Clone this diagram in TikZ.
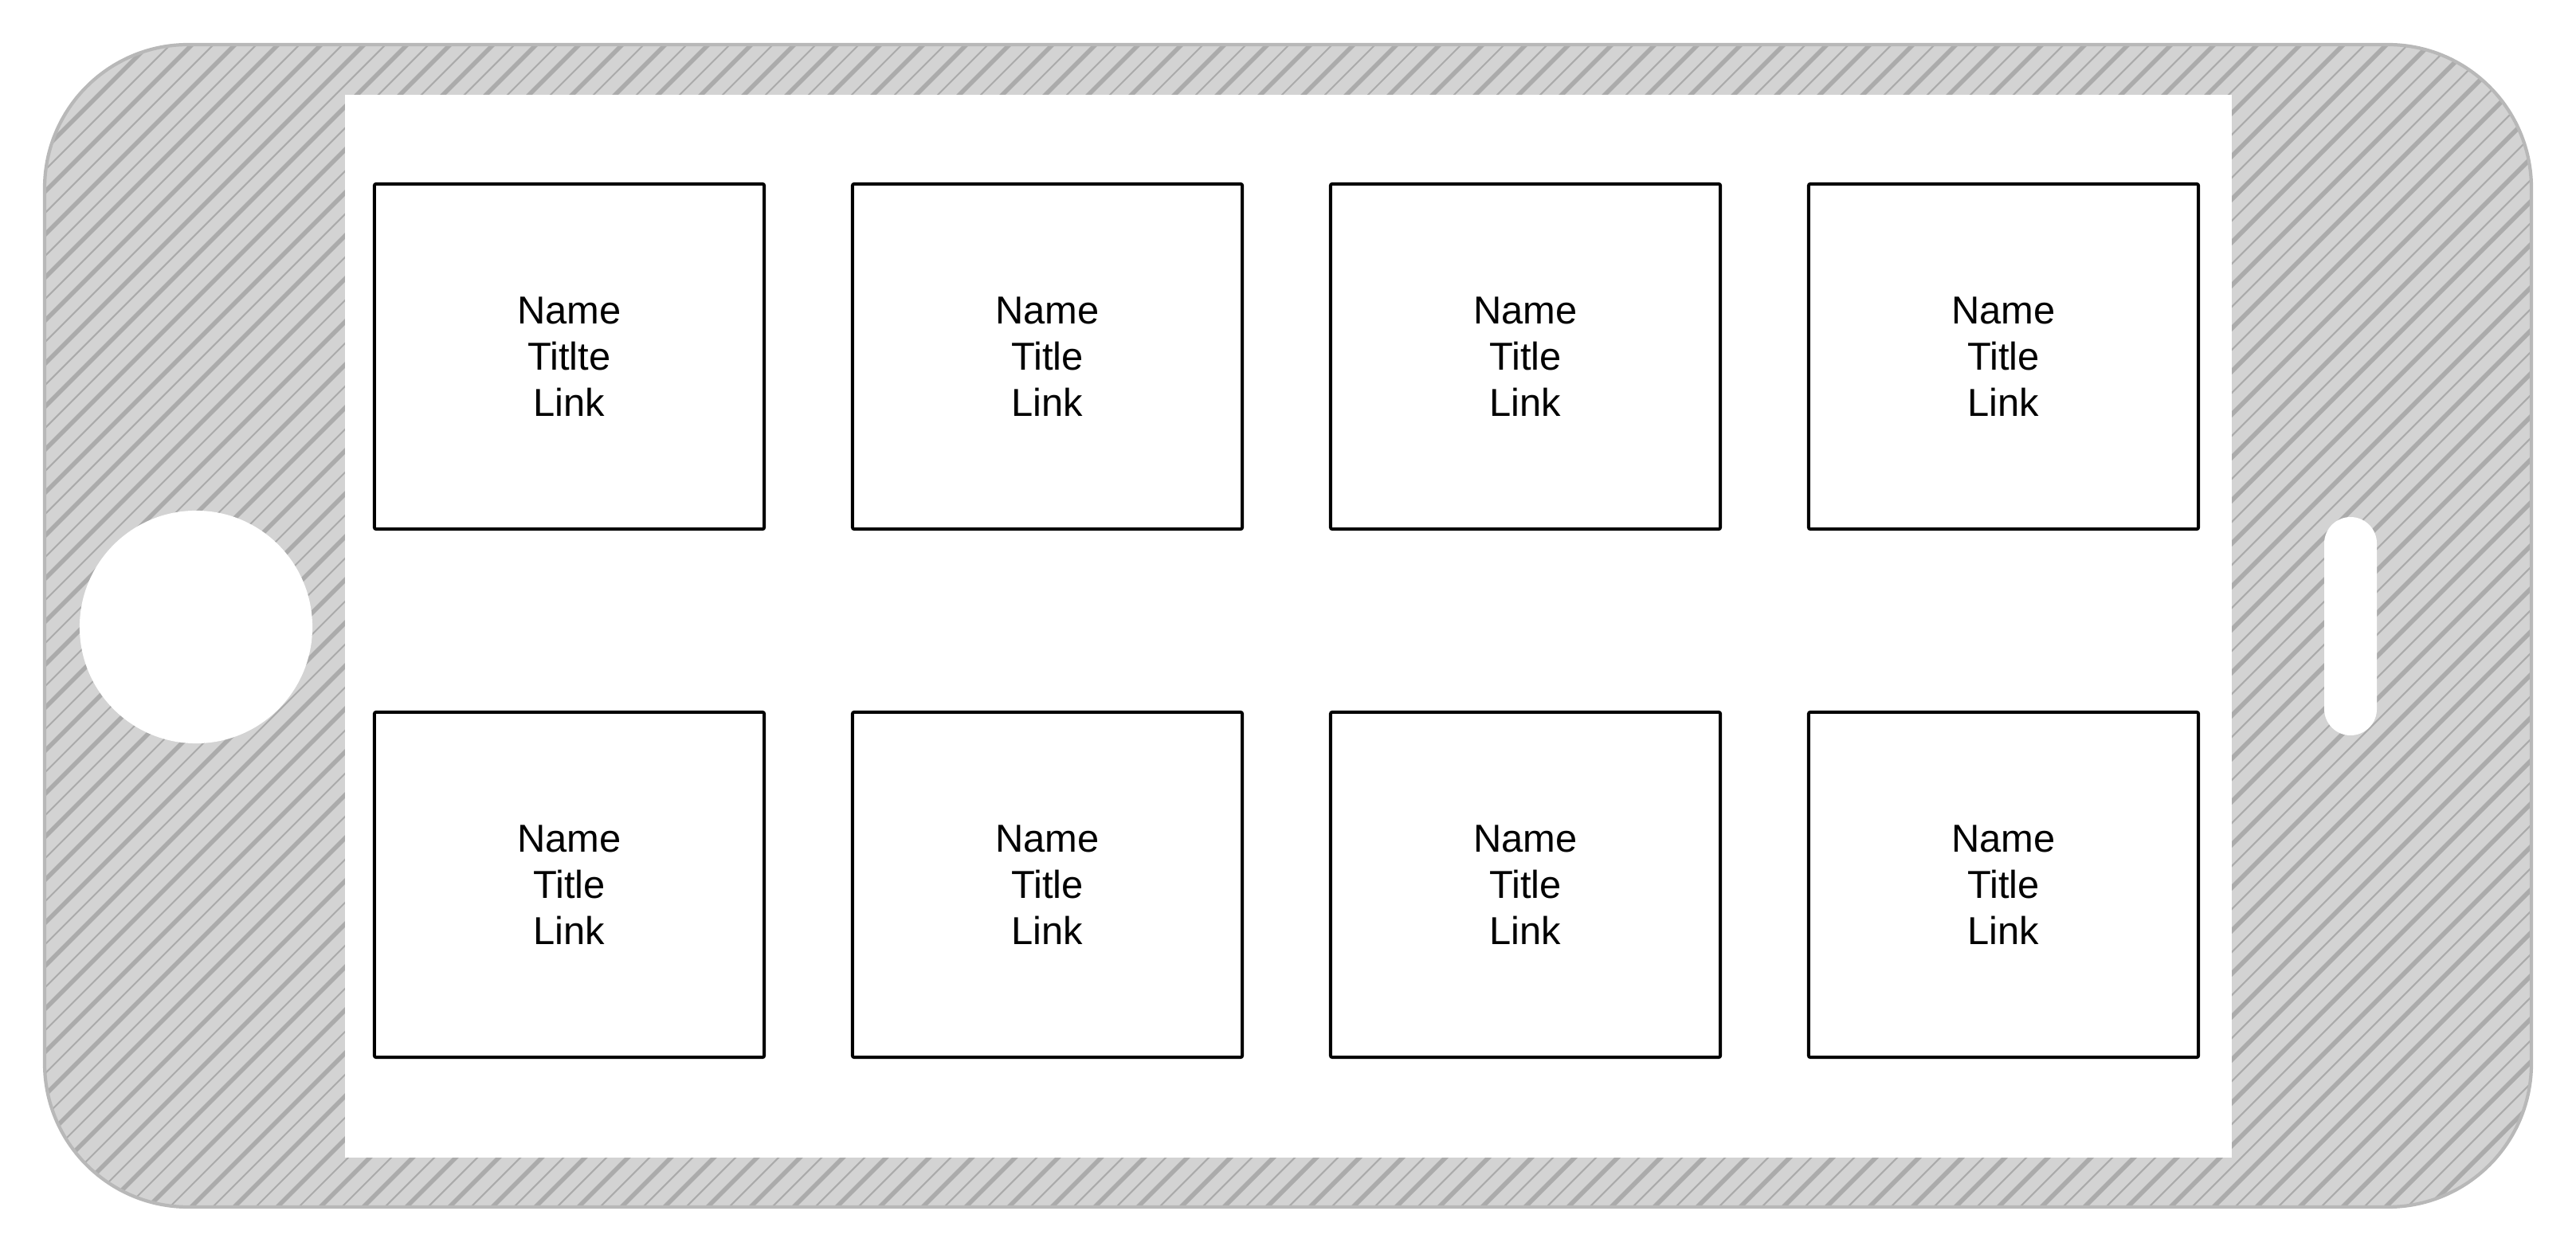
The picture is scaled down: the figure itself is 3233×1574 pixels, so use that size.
\documentclass[tikz,border=0pt]{standalone}
\usepackage{fontspec}
\setmainfont{Liberation Sans}
\definecolor{shell}{HTML}{D3D3D3}
\definecolor{hatch}{HTML}{ABABAB}
\definecolor{rim}{HTML}{B8B8B8}
\begin{document}
\begin{tikzpicture}[x=0.01cm,y=-0.01cm,
        card/.style={draw=black,line width=1.1pt,fill=white,rounded corners=0.6pt,
            minimum width=4.89cm,minimum height=4.33cm,align=center,
            font=\fontsize{13.9}{16.5}\selectfont}]
        \useasboundingbox (0,0) rectangle (3233,1574);
        \fill [shell,rounded corners=1.8cm] (56,56) rectangle (3177,1515);
        \begin{scope}
            \clip [rounded corners=1.8cm] (56,56) rectangle (3177,1515);
            \foreach \c in {-1600,-1546,...,3300}
                \draw [hatch,line width=0.6pt] (\c,1600) -- (\c+1600,0);
            \foreach \c in {-1573,-1519,...,3300}
                \draw [hatch,line width=1.6pt] (\c,1600) -- (\c+1600,0);
        \end{scope}
        \fill [white] (433,119) rectangle (2801,1453);
        \fill [white] (246,787) circle [radius=1.46cm];
        \fill [white,rounded corners=0.33cm] (2917,649) rectangle (2983,923);
        \draw [rim,line width=1.2pt,rounded corners=1.8cm] (56,56) rectangle (3177,1515);

        \node [card] (top1) at (714.5,447.5) {Name\\Titlte\\Link};
        \node [card] (top2) at (1314.5,447.5) {Name\\Title\\Link};
        \node [card] (top3) at (1914.5,447.5) {Name\\Title\\Link};
        \node [card] (top4) at (2514.5,447.5) {Name\\Title\\Link};
        \node [card] (bot1) at (714.5,1110.5) {Name\\Title\\Link};
        \node [card] (bot2) at (1314.5,1110.5) {Name\\Title\\Link};
        \node [card] (bot3) at (1914.5,1110.5) {Name\\Title\\Link};
        \node [card] (bot4) at (2514.5,1110.5) {Name\\Title\\Link};

    \end{tikzpicture}
\end{document}
